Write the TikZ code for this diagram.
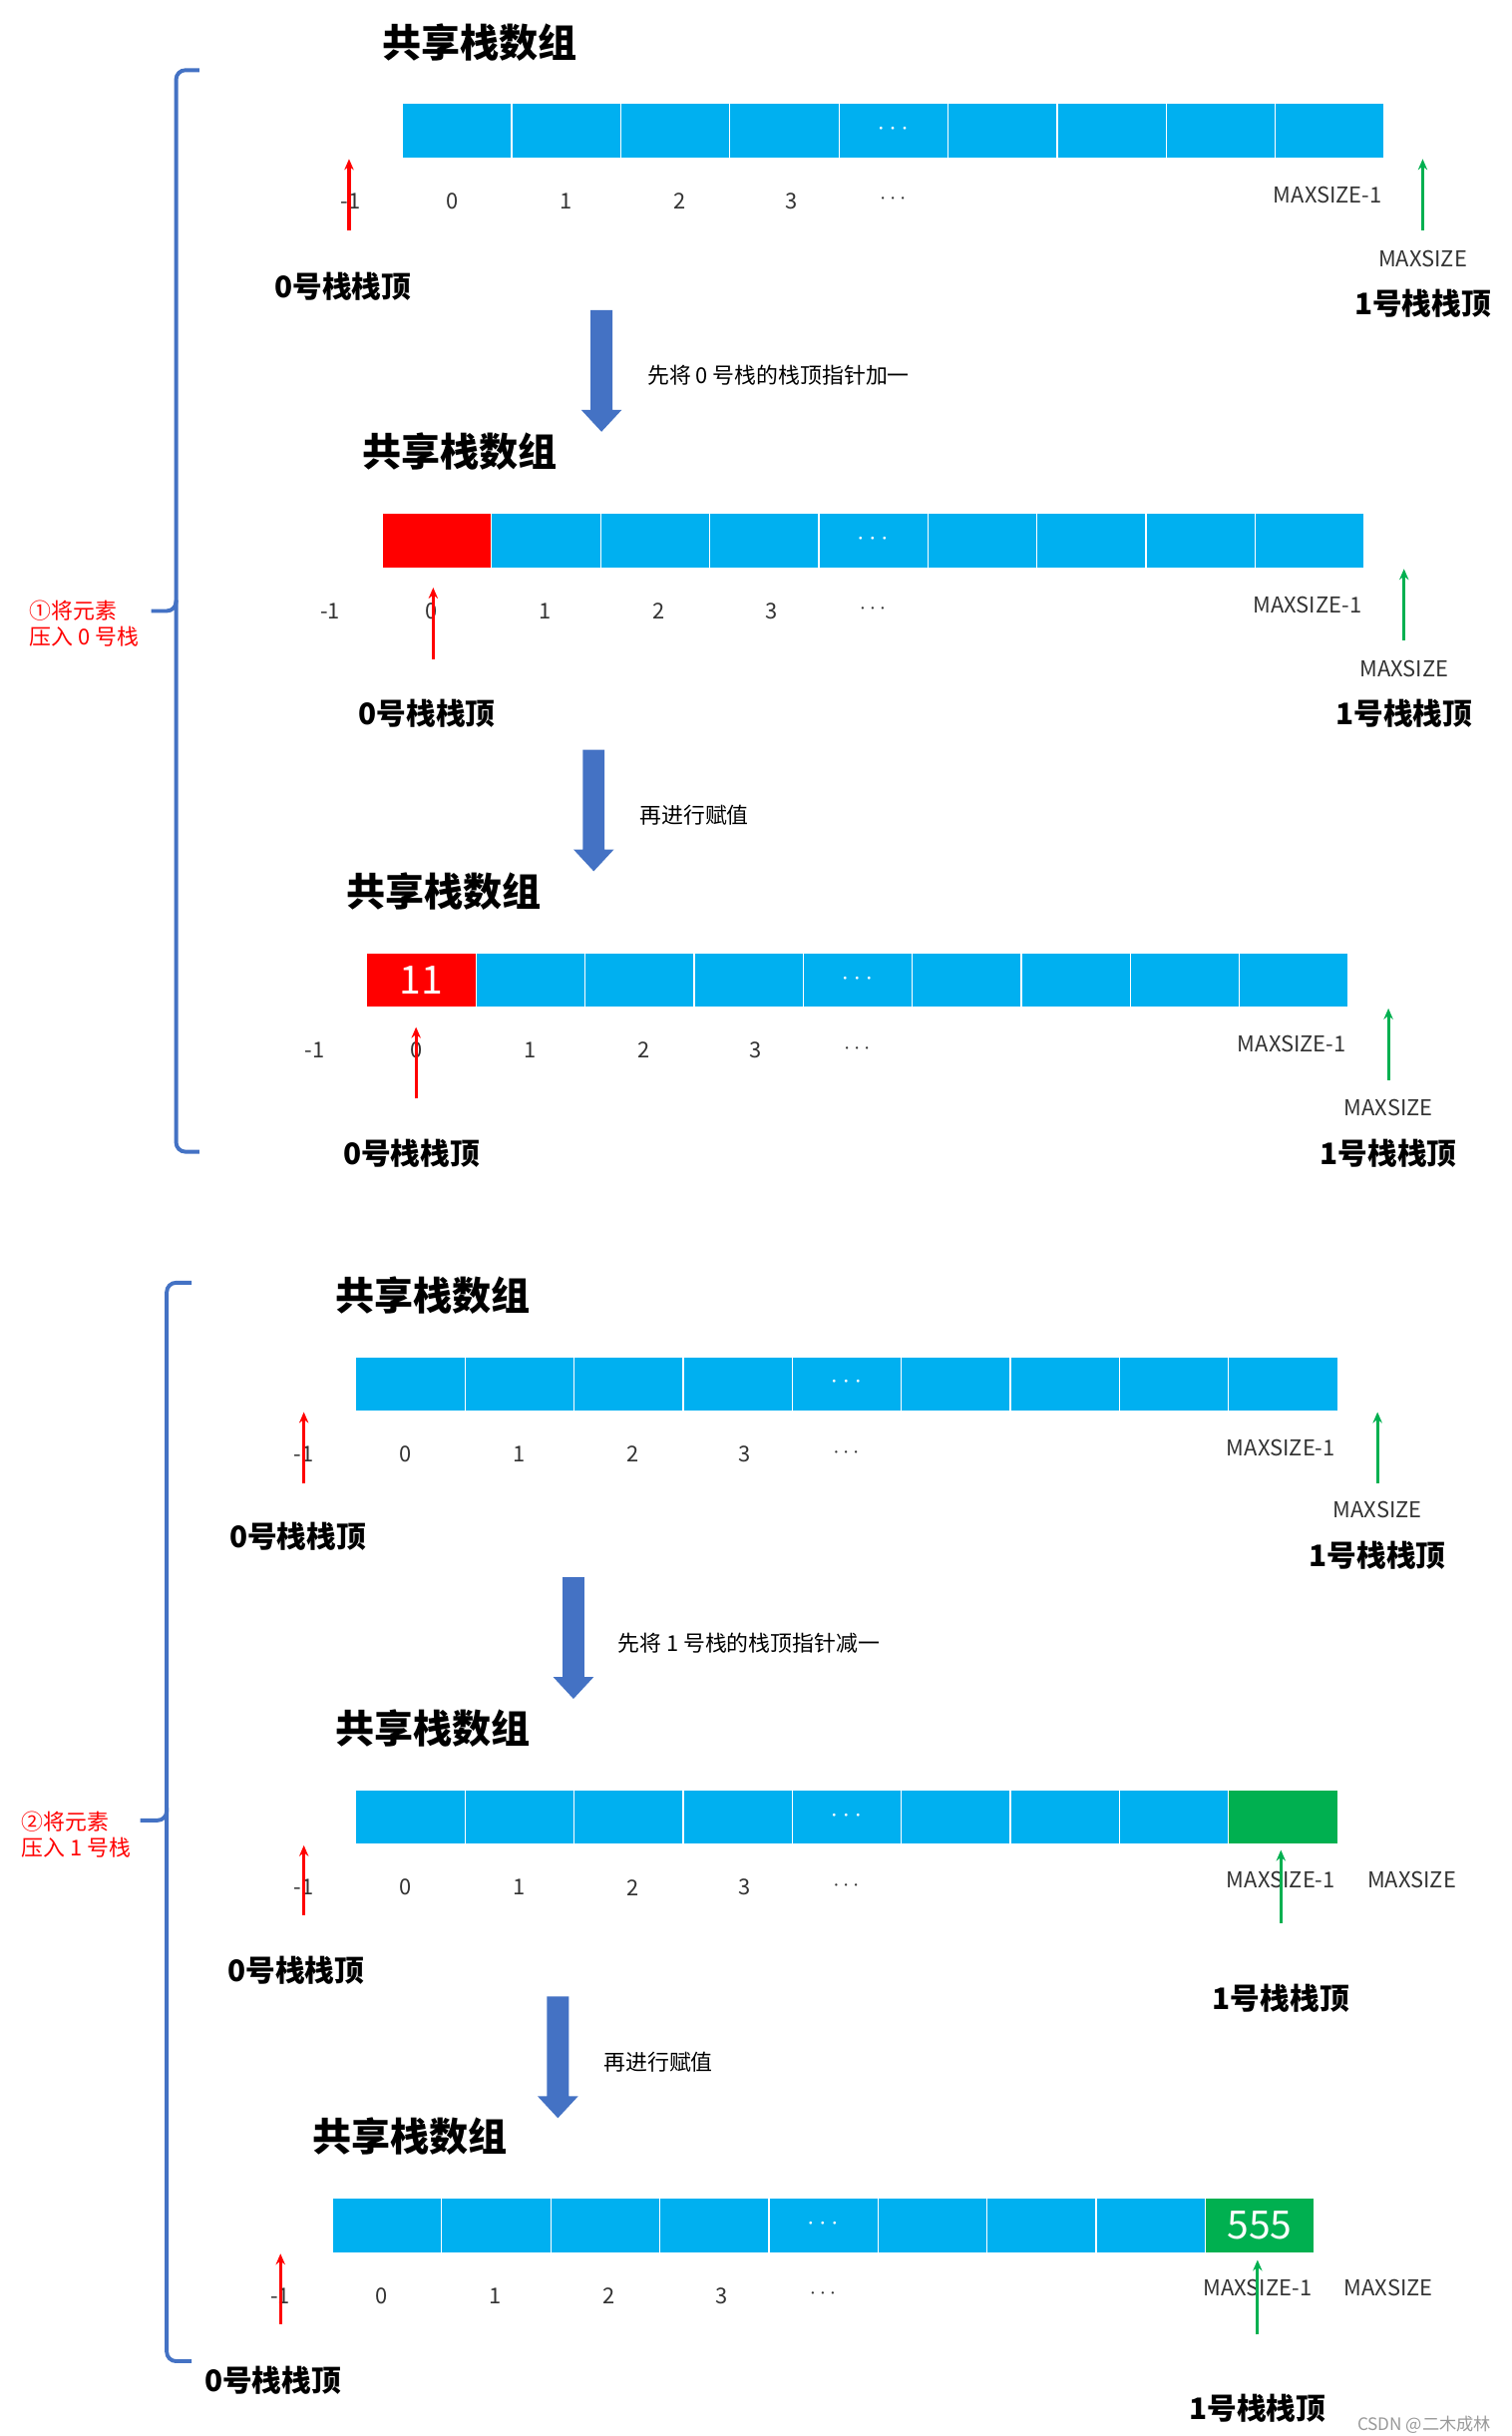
\documentclass[tikz,border=0pt]{standalone}
\usepackage{fontspec}
\setmainfont{Noto Sans CJK SC}
\definecolor{cb}{HTML}{00B0F0}
\definecolor{cr}{HTML}{FF0000}
\definecolor{cg}{HTML}{00B050}
\definecolor{ab}{HTML}{4472C4}
\tikzset{
 cellbox/.style={draw=white,line width=0.8pt,fill=cb,minimum width=70pt,minimum height=35pt,anchor=north west,inner sep=0pt},
 idx/.style={font=\fontsize{14}{16}\selectfont,text=black!80},
 ttl/.style={font=\fontsize{25}{30}\selectfont\bfseries},
 ptr/.style={font=\fontsize{19}{22}\selectfont\bfseries},
 redar/.style={cr,line width=2pt,-{Stealth[length=7pt,width=6pt]}},
 grnar/.style={cg,line width=2pt,-{Stealth[length=7pt,width=6pt]}},
 lbl/.style={font=\fontsize{14}{16}\selectfont,anchor=west},
 side/.style={font=\fontsize{14}{17}\selectfont,text=cr,align=left},
 brace/.style={ab,line width=2.5pt,rounded corners=6pt}
}
\usetikzlibrary{arrows.meta}
% #1 first-cell fill, #2 first text, #3 last fill, #4 last text
\newcommand\myarr[4]{%
 \foreach \i in {0,...,8}{\node[cellbox] (c\i) at (\i*70,0) {};}
 \node[cellbox,fill=#1] at (0,0) {\fontsize{25}{28}\selectfont\color{white}#2};
 \node[cellbox,fill=#3] at (560,0) {\fontsize{25}{28}\selectfont\color{white}#4};
 \node[text=white,font=\fontsize{16}{18}\selectfont] at (315,17) {$\cdots$};
 \node[ttl] at (50,-39) {共享栈数组};
 \foreach \x/\t in {-33/-1,32/0,105/1,178/2,250/3}{\node[idx] at (\x,63) {\t};}
 \node[idx] at (315,62) {$\cdots$};
}
\newcommand\blockarrow[3]{% x, ytop, ybot
 \fill[ab] (#1-7,#2) -- (#1+7,#2) -- (#1+7,#3-14) -- (#1+13,#3-14) -- (#1,#3) -- (#1-13,#3-14) -- (#1-7,#3-14) -- cycle;}
\begin{document}
\begin{tikzpicture}[x=1pt,y=-1pt]
\useasboundingbox (0,0) rectangle (970,1563);
\fill[white] (0,0) rectangle (970,1563);
% block 1
\begin{scope}[shift={(258,66)}]
 \myarr{cb}{}{cb}{}
 \node[idx] at (594,59) {MAXSIZE-1};
 \coordinate (r1a) at (-34,82); \coordinate (r1b) at (-34,36);
 \draw[redar] (r1a) -- (r1b);
 \coordinate (g1a) at (655,82); \coordinate (g1b) at (655,36);
 \draw[grnar] (g1a) -- (g1b);
 \node[idx] at (655,100) {MAXSIZE};
 \node[ptr] at (-38,118) {0号栈栈顶};
 \node[ptr] at (655,129) {1号栈栈顶};
\end{scope}
\blockarrow{386}{199}{277}
\node[lbl] (l1) at (412,241) {先将 0 号栈的栈顶指针加一};
% block 2
\begin{scope}[shift={(245,329)}]
 \myarr{cr}{}{cb}{}
 \node[idx] at (594,59) {MAXSIZE-1};
 \draw[redar] (33,94) -- (33,48);
 \draw[grnar] (656,82) -- (656,36);
 \node[idx] at (656,100) {MAXSIZE};
 \node[ptr] at (29,129) {0号栈栈顶};
 \node[ptr] at (656,129) {1号栈栈顶};
\end{scope}
\blockarrow{381}{481}{559}
\node[lbl] (l2) at (407,523) {再进行赋值};
% block 3
\begin{scope}[shift={(235,611)}]
 \myarr{cr}{11}{cb}{}
 \node[idx] at (594,59) {MAXSIZE-1};
 \draw[redar] (32,94) -- (32,48);
 \draw[grnar] (656,82) -- (656,36);
 \node[idx] at (656,100) {MAXSIZE};
 \node[ptr] at (29,129) {0号栈栈顶};
 \node[ptr] at (656,129) {1号栈栈顶};
\end{scope}
% brace 1
\draw[brace] (128,45) -- (113,45) -- (113,392) -- (97,392);
\draw[brace] (113,385) -- (113,739) -- (128,739);
\node[side] (s1) at (54,400) {①将元素\\压入 0 号栈};
% block 4
\begin{scope}[shift={(228,870)}]
 \myarr{cb}{}{cb}{}
 \node[idx] at (594,59) {MAXSIZE-1};
 \draw[redar] (-33,82) -- (-33,36);
 \draw[grnar] (656,82) -- (656,36);
 \node[idx] at (656,99) {MAXSIZE};
 \node[ptr] at (-37,116) {0号栈栈顶};
 \node[ptr] at (656,128) {1号栈栈顶};
\end{scope}
\blockarrow{368}{1012}{1090}
\node[lbl] (l3) at (393,1054) {先将 1 号栈的栈顶指针减一};
% block 5
\begin{scope}[shift={(228,1148)}]
 \myarr{cb}{}{cg}{}
 \node[idx] at (594,58) {MAXSIZE-1};
 \node[idx] at (678,58) {MAXSIZE};
 \draw[redar] (-33,81) -- (-33,36);
 \draw[grnar] (594,86) -- (594,39);
 \node[ptr] at (-38,116) {0号栈栈顶};
 \node[ptr] at (594,134) {1号栈栈顶};
\end{scope}
\blockarrow{358}{1281}{1359}
\node[lbl] (l4) at (384,1323) {再进行赋值};
% block 6
\begin{scope}[shift={(213,1410)}]
 \myarr{cb}{}{cg}{555}
 \node[idx] at (594,58) {MAXSIZE-1};
 \node[idx] at (678,58) {MAXSIZE};
 \draw[redar] (-33,81) -- (-33,36);
 \draw[grnar] (594,88) -- (594,40);
 \node[ptr] at (-38,117) {0号栈栈顶};
 \node[ptr] at (594,135) {1号栈栈顶};
\end{scope}
% brace 2
\draw[brace] (123,823) -- (107,823) -- (107,1168) -- (90,1168);
\draw[brace] (107,1160) -- (107,1515) -- (123,1515);
\node[side] (s2) at (49,1177) {②将元素\\压入 1 号栈};
\node[font=\fontsize{11}{13}\selectfont,text=black!40] (wm) at (914,1556) {CSDN @二木成林};
\end{tikzpicture}
\end{document}
